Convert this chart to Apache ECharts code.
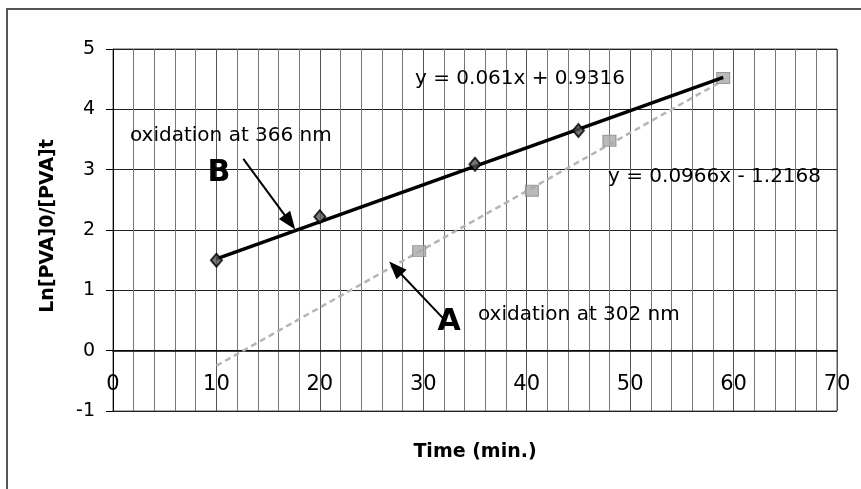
<!DOCTYPE html>
<html>
<head>
<meta charset="utf-8">
<script src="https://cdn.jsdelivr.net/npm/echarts@6/dist/echarts.min.js"></script>
<style>
html,body{margin:0;padding:0;background:#fff;}
#chart{width:861px;height:489px;}
</style>
</head>
<body>
<div id="chart"></div>
<script>
// Series A: oxidation at 302 nm (grey squares + dashed trend)
const timeA = [29.6, 40.5, 48, 59];
const lnA = [1.65, 2.65, 3.48, 4.52];
const trendAx = [10, 59];
const trendAy = [-0.25, 4.48];
// Series B: oxidation at 366 nm (black diamonds + solid trend)
const timeB = [10, 20, 35, 45];
const lnB = [1.5, 2.22, 3.09, 3.65];
const trendBx = [10, 59];
const trendBy = [1.52, 4.53];
// Arrow annotations (data coordinates: start, end)
const arrowB = [[12.6, 3.18], [17.1, 2.13]];
const arrowA = [[31.9, 0.54], [27.3, 1.37]];
// Text
const eqB = 'y = 0.061x + 0.9316';
const eqA = 'y = 0.0966x - 1.2168';
const noteB = 'oxidation at 366 nm';
const noteA = 'oxidation at 302 nm';
const xTitle = 'Time (min.)';
const yTitle = 'Ln[PVA]0/[PVA]t';

const pair = (xs, ys) => xs.map((x, i) => [x, ys[i]]);
const FONT = 'DejaVu Sans';

const chart = echarts.init(document.getElementById('chart'), null, {renderer: 'canvas'});
chart.setOption({
  animation: false,
  backgroundColor: '#fff',
  textStyle: {fontFamily: FONT},
  grid: {left: 113, top: 49, width: 724, height: 362, show: true, borderColor: '#555', borderWidth: 1},
  xAxis: {
    type: 'value', min: 0, max: 70, interval: 10,
    offset: -60.33,
    axisLine: {show: true, onZero: false, lineStyle: {color: '#000', width: 1.5}},
    axisTick: {show: false},
    axisLabel: {color: '#000', fontSize: 21, fontFamily: FONT, margin: 23},
    splitLine: {show: true, lineStyle: {color: '#555', width: 1}},
    minorTick: {show: false, splitNumber: 5},
    minorSplitLine: {show: true, lineStyle: {color: '#777', width: 1}}
  },
  yAxis: {
    type: 'value', min: -1, max: 5, interval: 1,
    axisLine: {show: true, onZero: false, lineStyle: {color: '#000', width: 1}},
    axisTick: {show: true, inside: false, length: 7, lineStyle: {color: '#000'}},
    axisLabel: {color: '#000', fontSize: 19, fontFamily: FONT, margin: 18},
    splitLine: {show: true, lineStyle: {color: '#222', width: 1}}
  },
  series: [
    {
      type: 'line', data: pair(trendAx, trendAy), symbol: 'none', silent: true,
      lineStyle: {color: '#b5b5b5', width: 2.5, type: [6, 4]}, z: 3
    },
    {
      type: 'scatter', data: pair(timeA, lnA), symbol: 'rect', symbolSize: [13, 11],
      itemStyle: {color: '#a9a9a9', borderColor: '#888', borderWidth: 1}, z: 4
    },
    {
      type: 'line', data: pair(trendBx, trendBy), symbol: 'none', silent: true,
      lineStyle: {color: '#000', width: 3.5}, z: 5,
      markLine: {
        silent: true, symbol: ['none', 'triangle'], symbolSize: [14, 18],
        label: {show: false},
        lineStyle: {color: '#000', width: 2, type: 'solid'},
        data: [
          [{coord: arrowB[0]}, {coord: arrowB[1]}],
          [{coord: arrowA[0]}, {coord: arrowA[1]}]
        ]
      }
    },
    {
      type: 'scatter', data: pair(timeB, lnB), symbol: 'diamond', symbolSize: [11, 13],
      itemStyle: {color: '#555', borderColor: '#000', borderWidth: 2}, z: 6
    }
  ],
  graphic: [
    {type: 'polyline', shape: {points: [[7, 489], [7, 9], [861, 9]]}, style: {stroke: '#555', lineWidth: 2, fill: null}},
    {type: 'text', left: 415, top: 69, style: {text: eqB, font: '20px "DejaVu Sans"', fill: '#000'}, z: 10},
    {type: 'text', left: 608, top: 167, style: {text: eqA, font: '20px "DejaVu Sans"', fill: '#000'}, z: 10},
    {type: 'text', left: 130, top: 126, style: {text: noteB, font: '20px "DejaVu Sans"', fill: '#000'}, z: 10},
    {type: 'text', left: 478, top: 305, style: {text: noteA, font: '20px "DejaVu Sans"', fill: '#000'}, z: 10},
    {type: 'text', x: 219, y: 173, style: {text: 'B', font: 'bold 30px "DejaVu Sans"', fill: '#000', align: 'center', verticalAlign: 'middle'}, z: 10},
    {type: 'text', x: 449, y: 322, style: {text: 'A', font: 'bold 30px "DejaVu Sans"', fill: '#000', align: 'center', verticalAlign: 'middle'}, z: 10},
    {type: 'text', x: 475, y: 452, style: {text: xTitle, font: 'bold 19px "DejaVu Sans"', fill: '#000', align: 'center', verticalAlign: 'middle'}, z: 10},
    {type: 'text', x: 48, y: 226, rotation: Math.PI / 2, style: {text: yTitle, font: 'bold 19px "DejaVu Sans"', fill: '#000', align: 'center', verticalAlign: 'middle'}, z: 10}
  ]
});
</script>
</body>
</html>
